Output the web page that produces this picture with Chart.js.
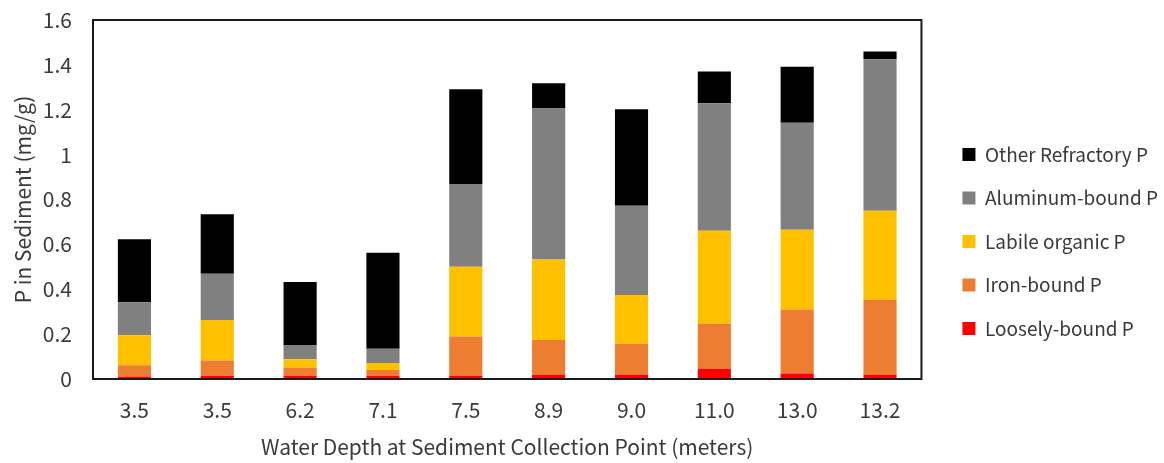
<!DOCTYPE html>
<html>
<head>
<meta charset="utf-8">
<script src="https://cdn.jsdelivr.net/npm/chart.js@4.4.1/dist/chart.umd.min.js"></script>
<style>
  html, body { margin: 0; padding: 0; background: #ffffff; }
  #wrap { width: 1164px; height: 463px; position: relative; }
</style>
</head>
<body>
<div id="wrap"><canvas id="c" width="1164" height="463"></canvas></div>
<script>
const categories = ['3.5', '3.5', '6.2', '7.1', '7.5', '8.9', '9.0', '11.0', '13.0', '13.2'];
const looselyBound = [0.010, 0.015, 0.015, 0.015, 0.015, 0.019, 0.019, 0.046, 0.025, 0.019];
const ironBound = [0.051, 0.068, 0.035, 0.025, 0.174, 0.155, 0.138, 0.200, 0.285, 0.334];
const labileOrganic = [0.134, 0.180, 0.038, 0.031, 0.311, 0.359, 0.217, 0.415, 0.355, 0.397];
const aluminumBound = [0.147, 0.206, 0.064, 0.064, 0.369, 0.673, 0.398, 0.568, 0.477, 0.675];
const otherRefractory = [0.281, 0.265, 0.280, 0.428, 0.422, 0.112, 0.430, 0.142, 0.250, 0.035];
const yTicks = [0, 0.2, 0.4, 0.6, 0.8, 1, 1.2, 1.4, 1.6];

const FONT = "'Noto Sans CJK SC', 'Lato', sans-serif";
const TXT = '#3a3a3a';
const FRAME = '#1a1a1a';

const mk = (label, data, color) => ({
  label, data, backgroundColor: color, borderWidth: 0,
  categoryPercentage: 1.0, barPercentage: 0.4
});

const framePlugin = {
  id: 'frame',
  afterDatasetsDraw(chart) {
    const a = chart.chartArea, ctx = chart.ctx;
    ctx.save();
    ctx.strokeStyle = FRAME;
    ctx.lineWidth = 2;
    ctx.strokeRect(a.left, a.top, a.right - a.left, a.bottom - a.top);
    ctx.restore();
  }
};

new Chart(document.getElementById('c'), {
  type: 'bar',
  data: {
    labels: categories,
    datasets: [
      mk('Loosely-bound P', looselyBound, '#ff0000'),
      mk('Iron-bound P', ironBound, '#ed7d31'),
      mk('Labile organic P', labileOrganic, '#ffc000'),
      mk('Aluminum-bound P', aluminumBound, '#808080'),
      mk('Other Refractory P', otherRefractory, '#000000')
    ]
  },
  plugins: [framePlugin],
  options: {
    responsive: false,
    animation: false,
    devicePixelRatio: 1,
    layout: { padding: { top: 20, right: -4, bottom: 0, left: 0 } },
    plugins: {
      tooltip: { enabled: false },
      legend: {
        position: 'right',
        align: 'center',
        reverse: true,
        labels: {
          boxWidth: 13, boxHeight: 13, padding: 24.5,
          color: TXT,
          font: { family: FONT, size: 19 }
        }
      }
    },
    scales: {
      x: {
        stacked: true,
        grid: { display: false, drawTicks: false },
        border: { display: false },
        ticks: { color: TXT, font: { family: FONT, size: 21 }, padding: 18.4, maxRotation: 0 },
        title: {
          display: true, text: 'Water Depth at Sediment Collection Point (meters)',
          color: TXT, font: { family: FONT, size: 21 }, padding: { top: 0, bottom: 3.4 }
        },
        afterFit: (s) => { s.height = 84; s.paddingLeft = 0; s.paddingRight = 0; }
      },
      y: {
        stacked: true,
        min: 0, max: 1.6,
        afterBuildTicks: (s) => { s.ticks = yTicks.map(v => ({ value: v })); },
        grid: { display: false, drawTicks: false },
        border: { display: false },
        ticks: { color: TXT, font: { family: FONT, size: 21 }, padding: 21,
                 callback: (v) => String(Math.round(v * 10) / 10) },
        title: {
          display: true, text: 'P in Sediment (mg/g)',
          color: TXT, font: { family: FONT, size: 21 }, padding: { top: 10, bottom: 0 }
        },
        afterFit: (s) => { s.width = 93; s.paddingTop = 0; s.paddingBottom = 0; }
      },
      y2: {
        position: 'right',
        type: 'linear',
        display: false,
        afterFit: (s) => { s.width = 16.5; }
      }
    }
  }
});
</script>
</body>
</html>
